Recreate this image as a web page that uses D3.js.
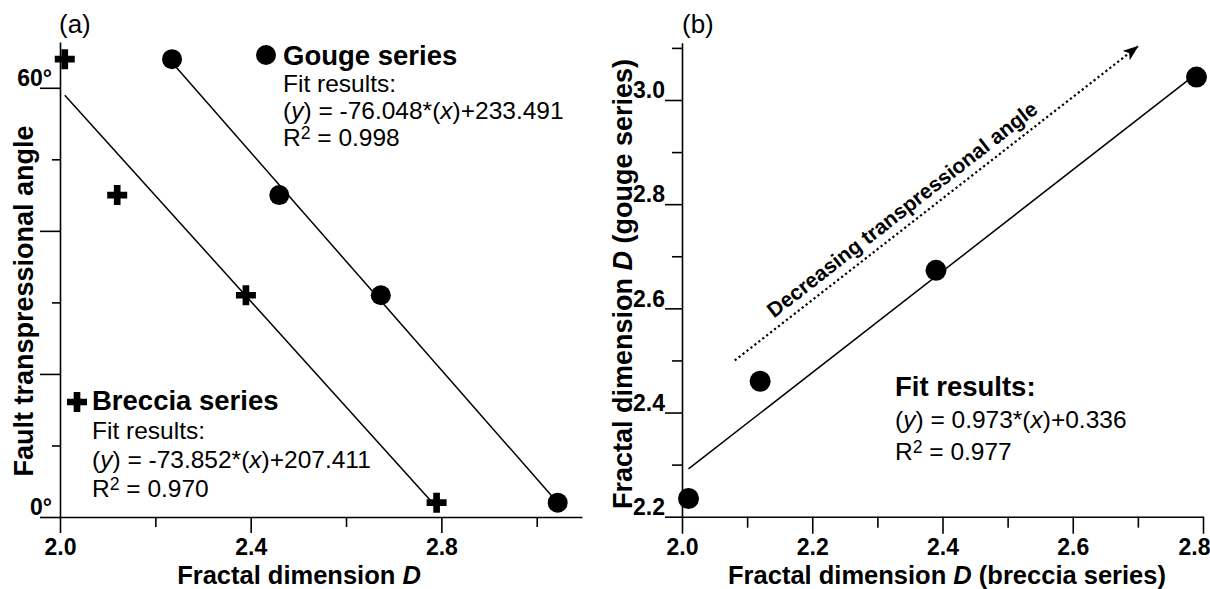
<!DOCTYPE html>
<html lang="en">
<head>
<meta charset="utf-8">
<title>Fractal dimension and transpressional angle</title>
<script src="https://cdn.jsdelivr.net/npm/d3@7"></script>
<style>
	body { margin: 0; background: #fff; }
	svg { font-family: "Liberation Sans", Arial, Helvetica, sans-serif; }
	.axis path, .axis line { stroke: #000; stroke-width: 1.6; }
	.axis text { font-size: 23px; font-weight: bold; fill: #000; font-family: "Liberation Sans", Arial, sans-serif; }
	.fit { fill: none; stroke: #000; stroke-width: 1.5; }
	.title { font-size: 27px; font-weight: bold; }
	.legend-head { font-size: 27.5px; font-weight: bold; }
	.legend-line { font-size: 24.5px; }
</style>
</head>
<body>
<script>
var w = 1210;
var h = 589;

// fractal dimension D of the four samples
var brecciaD = [2.01, 2.12, 2.39, 2.79];
var gougeD = [2.235, 2.46, 2.673, 3.044];
// transpressional angle (degrees) of the same samples
var angles = [64, 45, 31, 2];

// linear fits in panel (a): [breccia, gouge]
var fitSlope = [-73.852, -76.048];
var fitIntercept = [207.411, 233.491];
// linear fit in panel (b)
var fitSlopeB = 0.973;
var fitInterceptB = 0.336;

// ticks
var xMajorA = [2.0, 2.4, 2.8];
var xMinorA = [2.2, 2.6, 3.0];
var yMajorA = [0, 20, 40, 60];
var yMinorA = [10, 30, 50];
var yLabelA = ["0°", "", "", "60°"];
var xMajorB = [2.0, 2.2, 2.4, 2.6, 2.8];
var xMinorB = [2.1, 2.3, 2.5, 2.7];
var yMajorB = [2.2, 2.4, 2.6, 2.8, 3.0];
var yMinorB = [2.3, 2.5, 2.7, 2.9, 3.1];

// arrow in panel (b), data coordinates [D breccia, D gouge]
var arrowFrom = [2.081, 2.50];
var arrowTo = [2.70, 3.103];

var svg = d3.select("body")
			.append("svg")
			.attr("width", w)
			.attr("height", h);

svg.append("defs").append("marker")
   .attr("id", "head")
   .attr("viewBox", "0 0 16 12")
   .attr("refX", 15).attr("refY", 6)
   .attr("markerWidth", 16).attr("markerHeight", 12)
   .attr("markerUnits", "userSpaceOnUse")
   .attr("orient", "auto")
   .append("path")
   .attr("d", "M0,0 L16,6 L0,12 L4,6 Z")
   .attr("fill", "#000");

// scales
var xA = d3.scaleLinear().domain([2.0, 3.095]).range([60, 582]);
var yA = d3.scaleLinear().domain([0, 66.4]).range([517, 42]);
var xB = d3.scaleLinear().domain([2.0, 2.8]).range([682, 1203]);
var yB = d3.scaleLinear().domain([2.2, 3.11]).range([516.7, 42.7]);

// draws minor ticks with the domain line, then major ticks with labels
var drawAxis = function(gen, scale, pos, major, minor, majorLen, minorLen, fmt) {
	svg.append("g").attr("class", "axis")
	   .attr("transform", pos)
	   .call(gen(scale).tickValues(minor).tickSize(minorLen).tickSizeOuter(0).tickFormat(""));
	var g = svg.append("g").attr("class", "axis")
			   .attr("transform", pos)
			   .call(gen(scale).tickValues(major).tickSize(majorLen).tickSizeOuter(0).tickFormat(fmt));
	g.select(".domain").remove();
	return g;
};

var fmt1 = d3.format(".1f");

// ---- panel (a)
var axA = drawAxis(d3.axisBottom, xA, "translate(0," + yA(0) + ")", xMajorA, xMinorA, 16, 10, fmt1);
axA.selectAll("text").attr("y", 22).attr("dy", "0.71em");
var ayA = drawAxis(d3.axisLeft, yA, "translate(" + xA(2.0) + ",0)", yMajorA, yMinorA, 20, 8,
				   function(d, i) { return yLabelA[i]; });
ayA.selectAll("text").attr("x", -8).attr("dy", "-0.1em");

// fit lines
[brecciaD, gougeD].forEach(function(xs, k) {
	var x0 = d3.min(xs), x1 = d3.max(xs);
	svg.append("line").attr("class", "fit")
	   .attr("x1", xA(x0)).attr("y1", yA(fitSlope[k] * x0 + fitIntercept[k]))
	   .attr("x2", xA(x1)).attr("y2", yA(fitSlope[k] * x1 + fitIntercept[k]));
});

var cross = d3.symbol().type(d3.symbolCross).size(222);

svg.selectAll(".breccia")
   .data(brecciaD)
   .enter()
   .append("path")
   .attr("class", "breccia")
   .attr("d", cross)
   .attr("transform", function(d, i) { return "translate(" + xA(d) + "," + yA(angles[i]) + ")"; });

svg.selectAll(".gouge")
   .data(gougeD)
   .enter()
   .append("circle")
   .attr("class", "gouge")
   .attr("cx", function(d) { return xA(d); })
   .attr("cy", function(d, i) { return yA(angles[i]); })
   .attr("r", 10);

// ---- panel (b)
var axB = drawAxis(d3.axisBottom, xB, "translate(0," + yB(2.2) + ")", xMajorB, xMinorB, 17, 11, fmt1);
axB.selectAll("text").attr("y", 22).attr("dy", "0.71em")
   .attr("dx", function(d) { return d === 2.8 ? -9 : 0; });
var ayB = drawAxis(d3.axisLeft, yB, "translate(" + xB(2.0) + ",0)", yMajorB, yMinorB, 17, 10, fmt1);
ayB.selectAll("text").attr("x", -17).attr("dy", "-0.1em");

var bx0 = d3.min(brecciaD), bx1 = d3.max(brecciaD);
svg.append("line").attr("class", "fit")
   .attr("x1", xB(bx0)).attr("y1", yB(fitSlopeB * bx0 + fitInterceptB))
   .attr("x2", xB(bx1)).attr("y2", yB(fitSlopeB * bx1 + fitInterceptB));

svg.selectAll(".pair")
   .data(brecciaD)
   .enter()
   .append("circle")
   .attr("class", "pair")
   .attr("cx", function(d) { return xB(d); })
   .attr("cy", function(d, i) { return yB(gougeD[i]); })
   .attr("r", 10.5);

// dotted arrow + its label
var p0 = [xB(arrowFrom[0]), yB(arrowFrom[1])];
var p1 = [xB(arrowTo[0]), yB(arrowTo[1])];
svg.append("line")
   .attr("x1", p0[0]).attr("y1", p0[1])
   .attr("x2", p1[0]).attr("y2", p1[1])
   .attr("stroke", "#000").attr("stroke-width", 2.2)
   .attr("stroke-dasharray", "2.2,2.8")
   .attr("marker-end", "url(#head)");

var ang = Math.atan2(p1[1] - p0[1], p1[0] - p0[0]);
var t = 0.44;
var tx = p0[0] + t * (p1[0] - p0[0]) + 9 * Math.sin(ang);
var ty = p0[1] + t * (p1[1] - p0[1]) - 9 * Math.cos(ang);
svg.append("text")
   .attr("transform", "translate(" + tx + "," + ty + ") rotate(" + (ang * 180 / Math.PI) + ")")
   .attr("text-anchor", "middle")
   .attr("font-size", 21).attr("font-weight", "bold")
   .text("Decreasing transpressional angle");

// ---- labels
svg.append("text").attr("x", 59).attr("y", 33).attr("font-size", 26).text("(a)");
svg.append("text").attr("x", 682).attr("y", 33).attr("font-size", 26).text("(b)");

var xt = svg.append("text").attr("class", "title").attr("text-anchor", "middle")
			.attr("font-size", 25.5).attr("x", 299).attr("y", 583.5)
			.style("font-size", "25.5px");
xt.append("tspan").text("Fractal dimension ");
xt.append("tspan").attr("font-style", "italic").text("D");

var xtB = svg.append("text").attr("class", "title").attr("text-anchor", "middle")
			 .attr("x", 947).attr("y", 583.5)
			 .style("font-size", "25.5px");
xtB.append("tspan").text("Fractal dimension ");
xtB.append("tspan").attr("font-style", "italic").text("D");
xtB.append("tspan").text(" (breccia series)");

svg.append("text").attr("class", "title").attr("text-anchor", "middle")
   .attr("transform", "translate(33,301) rotate(-90)")
   .text("Fault transpressional angle");

var ytB = svg.append("text").attr("class", "title").attr("text-anchor", "middle")
			 .attr("transform", "translate(632,284) rotate(-90)");
ytB.append("tspan").text("Fractal dimension ");
ytB.append("tspan").attr("font-style", "italic").text("D");
ytB.append("tspan").text(" (gouge series)");

// legend / fit text blocks
var fitBlock = function(x, y0, step, head, eq, r2) {
	var b = svg.append("g");
	b.append("text").attr("class", "legend-head").attr("x", x).attr("y", y0).text(head);
	var yy = y0 + step;
	if (head !== "Fit results:") {
		b.append("text").attr("class", "legend-line").attr("x", x).attr("y", yy).text("Fit results:");
		yy += step;
	}
	var e = b.append("text").attr("class", "legend-line").attr("x", x).attr("y", yy);
	e.append("tspan").text("(");
	e.append("tspan").attr("font-style", "italic").text("y");
	e.append("tspan").text(") = " + eq[0] + "*(");
	e.append("tspan").attr("font-style", "italic").text("x");
	e.append("tspan").text(")+" + eq[1]);
	var r = b.append("text").attr("class", "legend-line").attr("x", x).attr("y", yy + step);
	r.append("tspan").text("R");
	r.append("tspan").attr("font-size", "0.72em").attr("dy", -7).text("2");
	r.append("tspan").attr("dy", 7).text(" = " + r2);
};

svg.append("circle").attr("cx", 266).attr("cy", 55).attr("r", 10);
fitBlock(283, 65, 27, "Gouge series", [fitSlope[1].toFixed(3), fitIntercept[1].toFixed(3)], "0.998");

svg.append("path").attr("d", cross).attr("transform", "translate(77,402)");
fitBlock(92, 410, 29, "Breccia series", [fitSlope[0].toFixed(3), fitIntercept[0].toFixed(3)], "0.970");

fitBlock(895, 396, 32, "Fit results:", [fitSlopeB.toFixed(3), fitInterceptB.toFixed(3)], "0.977");
</script>
</body>
</html>
